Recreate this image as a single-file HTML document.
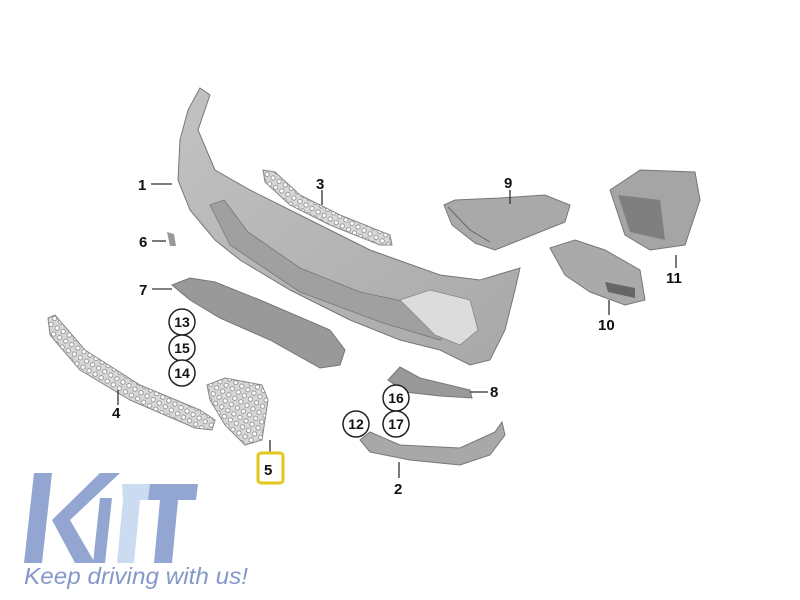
<!DOCTYPE html>
<html><head><meta charset="utf-8"><style>
body{margin:0;background:#fff;width:800px;height:600px;overflow:hidden}
svg{display:block}
text{font-family:"Liberation Sans",Arial,sans-serif;font-weight:bold;fill:#111}
</style></head><body>
<svg width="800" height="600" viewBox="0 0 800 600" xmlns="http://www.w3.org/2000/svg">
<defs>
<pattern id="mesh" width="7" height="7" patternUnits="userSpaceOnUse" patternTransform="rotate(30)">
<rect width="7" height="7" fill="#d8d8d8"/><circle cx="3.5" cy="3.5" r="2.2" fill="#fff" stroke="#888" stroke-width="0.8"/>
</pattern>
<linearGradient id="bg1" x1="0" y1="0" x2="1" y2="1"><stop offset="0" stop-color="#c2c2c2"/><stop offset="1" stop-color="#a8a8a8"/></linearGradient>
</defs>
<path d="M200,88 L210,95 L198,130 L215,170 L250,190 L300,215 L370,250 L440,275 L480,280 L520,268 L515,290 L505,330 L490,360 L470,365 L440,350 L400,340 L350,320 L290,290 L240,260 L215,240 L190,210 L178,180 L180,140 L188,110 Z" fill="url(#bg1)" stroke="#777" stroke-width="1"/>
<path d="M210,205 L230,245 L300,292 L380,322 L440,340 L450,330 L420,305 L360,292 L300,268 L248,232 L224,200 Z" fill="#a0a0a0" stroke="#777" stroke-width="0.8"/>
<path d="M400,300 L430,290 L470,300 L478,330 L460,345 L435,335 Z" fill="#dcdcdc" stroke="#888" stroke-width="0.8"/>
<path d="M263,170 L275,172 L300,195 L340,215 L390,235 L392,245 L380,245 L330,225 L290,205 L265,182 Z" fill="url(#mesh)" stroke="#888"/>
<path d="M167,232 L174,234 L176,246 L170,246 Z" fill="#999"/>
<path d="M172,285 L190,278 L215,282 L260,300 L330,330 L345,350 L340,365 L320,368 L270,340 L220,318 L190,300 Z" fill="#999" stroke="#777"/>
<path d="M48,318 L55,315 L85,350 L140,385 L200,410 L215,420 L212,430 L195,428 L130,400 L80,370 L50,335 Z" fill="url(#mesh)" stroke="#888"/>
<path d="M207,385 L225,378 L262,385 L268,400 L262,440 L245,445 L225,425 L210,400 Z" fill="url(#mesh)" stroke="#888"/>
<path d="M444,205 L455,200 L500,198 L545,195 L570,205 L565,222 L520,240 L495,250 L475,243 L452,225 Z" fill="#a9a9a9" stroke="#777"/>
<path d="M448,207 L470,230 L490,242" fill="none" stroke="#666"/>
<path d="M610,190 L640,170 L695,172 L700,200 L685,245 L650,250 L625,235 Z" fill="#a5a5a5" stroke="#777"/>
<path d="M618,195 L660,200 L665,240 L630,232 Z" fill="#7f7f7f"/>
<path d="M550,248 L575,240 L605,250 L640,270 L645,300 L625,305 L590,292 L565,275 Z" fill="#aaa" stroke="#777"/>
<path d="M605,282 L635,288 L635,298 L608,292Z" fill="#666"/>
<path d="M388,380 L400,367 L420,378 L470,390 L472,398 L440,396 L405,392 Z" fill="#999" stroke="#777"/>
<path d="M360,440 L370,432 L400,445 L460,448 L495,432 L502,422 L505,435 L490,455 L460,465 L410,460 L370,452 Z" fill="#a8a8a8" stroke="#777"/>
<g stroke="#333" stroke-width="1.3">
<line x1="151" y1="184" x2="172" y2="184"/><line x1="322" y1="190" x2="322" y2="205"/>
<line x1="510" y1="190" x2="510" y2="204"/><line x1="152" y1="241" x2="166" y2="241"/>
<line x1="152" y1="289" x2="172" y2="289"/><line x1="118" y1="390" x2="118" y2="405"/>
<line x1="676" y1="255" x2="676" y2="268"/><line x1="609" y1="300" x2="609" y2="315"/>
<line x1="470" y1="392" x2="488" y2="392"/><line x1="399" y1="462" x2="399" y2="478"/>
<line x1="270" y1="440" x2="270" y2="453"/>
</g>
<g font-size="15">
<text x="138" y="190">1</text><text x="316" y="189">3</text><text x="504" y="188">9</text>
<text x="139" y="247">6</text><text x="139" y="295">7</text><text x="112" y="418">4</text>
<text x="666" y="283">11</text><text x="598" y="330">10</text><text x="490" y="397">8</text>
<text x="394" y="494">2</text>
</g>
<rect x="258" y="453" width="25" height="30" rx="3" fill="#fff" stroke="#e7c61a" stroke-width="3"/>
<text x="264" y="475" font-size="15">5</text>
<g fill="#fff" stroke="#222" stroke-width="1.5">
<circle cx="182" cy="322" r="13"/><circle cx="182" cy="348" r="13"/><circle cx="182" cy="373" r="13"/>
<circle cx="356" cy="424" r="13"/><circle cx="396" cy="398" r="13"/><circle cx="396" cy="424" r="13"/>
</g>
<g font-size="14" text-anchor="middle">
<text x="182" y="327">13</text><text x="182" y="353">15</text><text x="182" y="378">14</text>
<text x="356" y="429">12</text><text x="396" y="403">16</text><text x="396" y="429">17</text>
</g>
<g fill="#93a6d1">
<path d="M34,473 L52,473 L42,563 L24,563 Z"/>
<path d="M52,520 L100,473 L120,473 L70,520 L95,563 L75,563 Z"/>
<path d="M100,498 L112,498 L105,563 L93,563 Z"/>
<path d="M140,484 L198,484 L196,500 L178,500 L172,563 L154,563 L160,500 L137,500 Z"/>
</g>
<path d="M122,484 L150,484 L148,500 L140,500 L134,563 L117,563 L123,500 Z" fill="#cbdbf0"/>
<text x="24" y="584" font-size="23" textLength="224" lengthAdjust="spacingAndGlyphs" style="font-weight:normal;font-style:italic;fill:#8598c8">Keep driving with us!</text>
</svg>
</body></html>
